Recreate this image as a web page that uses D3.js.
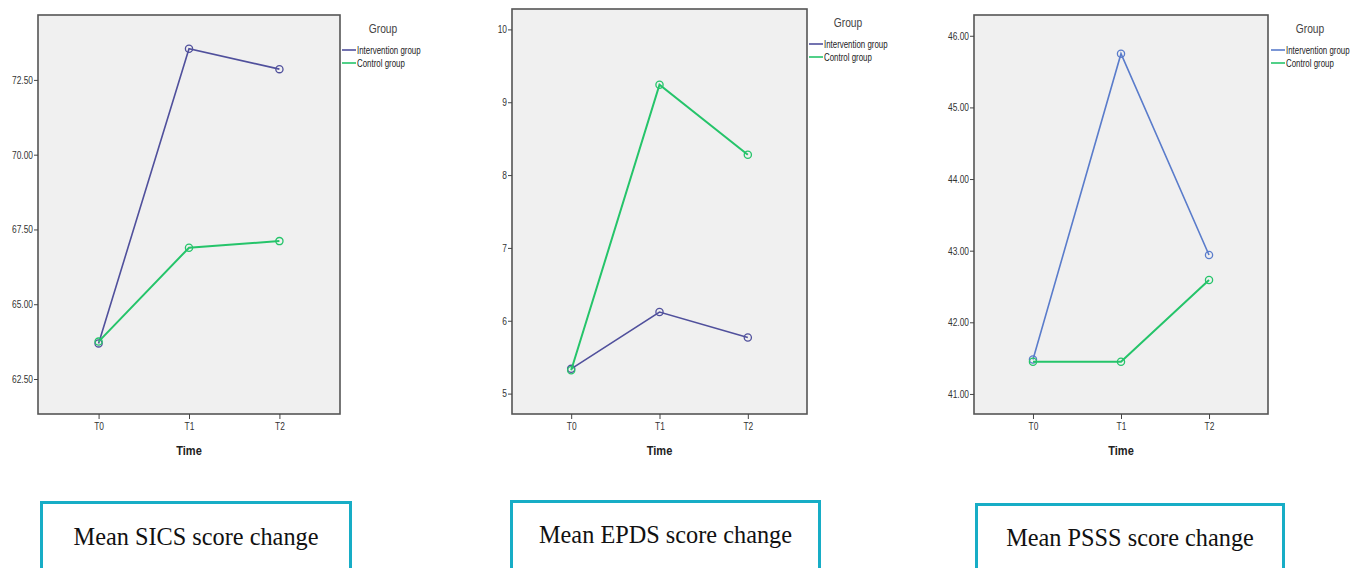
<!DOCTYPE html>
<html>
<head>
<meta charset="utf-8">
<script src="https://cdn.jsdelivr.net/npm/d3@7"></script>
<style>
  html, body { margin: 0; padding: 0; background: #ffffff; }
  svg { display: block; }
  .tick-label { font-family: "Liberation Sans", Arial, sans-serif; font-size: 10.5px; fill: #333; }
  .legend-text { font-family: "Liberation Sans", Arial, sans-serif; font-size: 10px; fill: #222; }
  .legend-title { font-family: "Liberation Sans", Arial, sans-serif; font-size: 12.5px; fill: #444; }
  .axis-title { font-family: "Liberation Sans", Arial, sans-serif; font-size: 13px; font-weight: bold; fill: #222; }
  .caption { font-family: "Liberation Serif", "Times New Roman", serif; font-size: 24.3px; fill: #111; }
</style>
</head>
<body>
<svg id="chart" width="1362" height="568"></svg>
<script>
// Time points and groups shared by all three panels
const timePoints = ["T0", "T1", "T2"];
const groupNames = ["Intervention group", "Control group"];

// Mean SICS scores
const sicsIntervention = [63.69, 73.54, 72.86];
const sicsControl = [63.75, 66.89, 67.11];
const sicsTicks = [62.5, 65, 67.5, 70, 72.5];

// Mean EPDS scores
const epdsIntervention = [5.34, 6.12, 5.77];
const epdsControl = [5.32, 9.24, 8.28];
const epdsTicks = [5, 6, 7, 8, 9, 10];

// Mean PSSS scores
const psssIntervention = [41.48, 45.75, 42.94];
const psssControl = [41.45, 41.45, 42.59];
const psssTicks = [41, 42, 43, 44, 45, 46];

const captions = ["Mean SICS score change", "Mean EPDS score change", "Mean PSSS score change"];

const controlColor = "#25c46a";
const NARROW = 0.8;   // horizontal squeeze for the condensed chart lettering

// Panel layout (frame box, y domain, tick format, colours)
const panels = [
  { frame: [38, 15, 340, 414], domain: [61.33, 74.67], ticks: sicsTicks, fmt: d3.format(".2f"),
    series: [sicsIntervention, sicsControl], colors: ["#50509c", controlColor],
    legend: { x: 342, title: [383, 29], y: [50, 63] },
    box: [40, 501, 312], capY: 545 },
  { frame: [512, 9, 807, 414], domain: [4.72, 10.28], ticks: epdsTicks, fmt: d3.format("d"),
    series: [epdsIntervention, epdsControl], colors: ["#50509c", controlColor],
    legend: { x: 809, title: [848, 23], y: [44, 57] },
    box: [510, 500, 311], capY: 543 },
  { frame: [974, 15, 1268, 414], domain: [40.72, 46.29], ticks: psssTicks, fmt: d3.format(".2f"),
    series: [psssIntervention, psssControl], colors: ["#5a7ccb", controlColor],
    legend: { x: 1271, title: [1310, 29], y: [50, 63] },
    box: [975, 503, 310], capY: 546 }
];

const svg = d3.select("#chart");

// Place a condensed text label at (x, y)
function narrowText(sel, cls, x, y, anchor, str, squeeze) {
  return sel.append("text")
    .attr("class", cls)
    .attr("transform", `translate(${x},${y}) scale(${squeeze},1)`)
    .attr("text-anchor", anchor)
    .text(str);
}

panels.forEach((p, i) => {
  const [x0, y0, x1, y1] = p.frame;
  const g = svg.append("g");

  const x = d3.scalePoint().domain(timePoints).range([x0, x1]).padding(0.67);
  const y = d3.scaleLinear().domain(p.domain).range([y1, y0]);

  // Plot background and frame
  g.append("rect")
    .attr("x", x0).attr("y", y0)
    .attr("width", x1 - x0).attr("height", y1 - y0)
    .attr("fill", "#f0f0f0")
    .attr("stroke", "#555").attr("stroke-width", 1.6);

  // Y axis
  const yAxis = g.append("g")
    .attr("transform", `translate(${x0},0)`)
    .attr("font-size", null).attr("font-family", null)
    .call(d3.axisLeft(y).tickValues(p.ticks).tickFormat(p.fmt).tickSize(4).tickPadding(1));
  yAxis.select(".domain").remove();
  yAxis.selectAll(".tick line").attr("stroke", "#444");
  yAxis.selectAll(".tick text")
    .attr("class", "tick-label").attr("fill", "#333")
    .attr("x", -5 / NARROW)
    .attr("transform", `scale(${NARROW},1)`);

  // X axis
  const xAxis = g.append("g")
    .attr("transform", `translate(0,${y1})`)
    .call(d3.axisBottom(x).tickSize(5).tickPadding(4));
  xAxis.select(".domain").remove();
  xAxis.selectAll(".tick line").attr("stroke", "#444");
  xAxis.selectAll(".tick text")
    .attr("class", "tick-label").attr("fill", "#333")
    .attr("transform", `scale(${NARROW},1)`);
  xAxis.attr("font-size", null).attr("font-family", null);
  yAxis.attr("font-size", null).attr("font-family", null);

  // Axis title
  narrowText(g, "axis-title", x("T1"), y1 + 41, "middle", "Time", 0.85);

  // Lines and markers, intervention drawn first
  const line = d3.line().x((d, k) => x(timePoints[k])).y(d => y(d));
  p.series.forEach((vals, s) => {
    g.append("path")
      .datum(vals)
      .attr("d", line)
      .attr("fill", "none")
      .attr("stroke", p.colors[s])
      .attr("stroke-width", s === 1 ? 2 : 1.6);
    g.selectAll(null)
      .data(vals)
      .join("circle")
      .attr("cx", (d, k) => x(timePoints[k]))
      .attr("cy", d => y(d))
      .attr("r", 3.6)
      .attr("fill", "none")
      .attr("stroke", p.colors[s])
      .attr("stroke-width", 1.3);
  });

  // Legend
  narrowText(g, "legend-title", p.legend.title[0], p.legend.title[1] + 4, "middle", "Group", 0.82);
  groupNames.forEach((name, s) => {
    const ly = p.legend.y[s];
    g.append("line")
      .attr("x1", p.legend.x).attr("x2", p.legend.x + 14)
      .attr("y1", ly).attr("y2", ly)
      .attr("stroke", p.colors[s]).attr("stroke-width", 1.6);
    narrowText(g, "legend-text", p.legend.x + 15, ly + 3.5, "start", name, 0.79);
  });

  // Caption box
  const [bx, by, bw] = p.box;
  g.append("rect")
    .attr("x", bx + 1.5).attr("y", by + 1.5)
    .attr("width", bw - 3).attr("height", 80)
    .attr("fill", "#ffffff")
    .attr("stroke", "#17adc6").attr("stroke-width", 3);
  g.append("text")
    .attr("class", "caption")
    .attr("x", bx + bw / 2).attr("y", p.capY)
    .attr("text-anchor", "middle")
    .text(captions[i]);
});
</script>
</body>
</html>
